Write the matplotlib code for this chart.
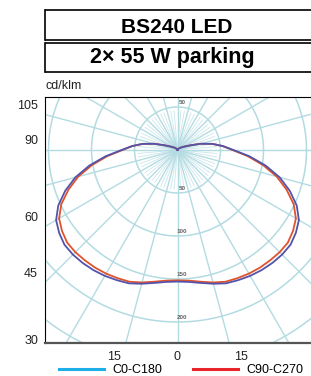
import numpy as np
import matplotlib
matplotlib.use("Agg")
import matplotlib.pyplot as plt
from matplotlib.lines import Line2D

# polar photometric diagram, cd/klm against gamma angle (0 = straight down)
GAMMA = [0, 5, 10, 15, 20, 25, 30, 35, 40, 45, 50, 55, 60, 65, 70, 75, 80, 85,
         90, 95, 100, 105, 110, 115, 120, 125, 130, 140, 150, 165, 180]
C0_C180 = [153, 154, 157, 161, 165, 167, 169, 170.5, 171.5, 172, 171.5, 168, 163,
           153, 139, 123, 104, 84, 65, 53, 41, 28, 16, 10, 7, 5, 4, 2, 1.5, 0.5, 0]
C90_C270 = [151.5, 152.5, 155.5, 159.5, 163, 164.5, 166, 167, 167.5, 168, 167.5, 164,
            159, 149, 135, 119.5, 101, 82, 64, 52.5, 41, 28, 16, 10, 7, 5, 4, 2, 1.5, 0.5, 0]

CIRCLES = [50, 100, 150, 200, 250, 300, 350]
CIRCLE_LABELS_DOWN = [50, 100, 150, 200]
CIRCLE_LABELS_UP = [50]
LEFT_ANGLES = [105, 90, 60, 45, 30]
BOTTOM_ANGLES = [-15, 0, 15]

TITLE = "BS240 LED"
SUBTITLE = "2\u00d7 55 W parking"
UNIT = "cd/klm"
SERIES = ["C0-C180", "C90-C270"]

W, H = 311, 376
PX = 0.86   # pixels per cd/klm
GRID = "#b3dbe2"


def polar_xy(gamma, r):
    g = np.radians(np.concatenate([-np.array(gamma[::-1]), np.array(gamma[1:])]))
    rr = np.concatenate([np.array(r[::-1]), np.array(r[1:])])
    return rr * np.sin(g), -rr * np.cos(g)


def main():
    plt.rcParams['font.family'] = ['Liberation Sans', 'DejaVu Sans']
    fig = plt.figure(figsize=(W / 100, H / 100), dpi=100)

    # title boxes, open on the right (they run off the page)
    for y0, y1 in [(10, 40), (43, 72)]:
        for ya in (y0, y1):
            fig.add_artist(Line2D([44.5 / W, 1.0], [1 - ya / H] * 2,
                                  transform=fig.transFigure, color="black",
                                  lw=1.2, solid_capstyle="butt"))
        fig.add_artist(Line2D([44.5 / W] * 2, [1 - y0 / H, 1 - y1 / H],
                              transform=fig.transFigure, color="black", lw=1.2))
    fig.text(176.5 / W, 1 - 33 / H, TITLE, ha="center", va="baseline",
             fontsize=15, fontweight="bold")
    fig.text(172 / W, 1 - 62.5 / H, SUBTITLE, ha="center", va="baseline",
             fontsize=15.5, fontweight="bold")
    fig.text(45 / W, 1 - 86 / H, UNIT, ha="left", va="center", fontsize=9, color="#222")

    cx, cy = 177.5, 150.0
    left, top, bottom, right = 45, 97, 343, 312
    ax = fig.add_axes([left / W, 1 - bottom / H, (right - left) / W, (bottom - top) / H])
    ax.set_xlim((left - cx) / PX, (right - cx) / PX)
    ax.set_ylim((cy - bottom) / PX, (cy - top) / PX)

    # grid
    t = np.linspace(0, 2 * np.pi, 400)
    for r in CIRCLES:
        ax.plot(r * np.cos(t), r * np.sin(t), color=GRID, lw=1.1, zorder=1)
    for a in range(0, 360, 5):
        ar = np.radians(a)
        if a % 15 == 0:
            ax.plot([0, 400 * np.sin(ar)], [0, -400 * np.cos(ar)], color=GRID, lw=1.0, zorder=1)
        else:
            ax.plot([0, 46 * np.sin(ar)], [0, -46 * np.cos(ar)], color=GRID, lw=0.6,
                    alpha=0.7, zorder=1)
    off = 4.5 / PX
    for r in CIRCLE_LABELS_DOWN:
        ax.text(4.5 / PX, -r + off, str(r), fontsize=4.5, fontweight="bold",
                color="#666", ha="center", va="center", zorder=2)
    for r in CIRCLE_LABELS_UP:
        ax.text(4.5 / PX, r + off, str(r), fontsize=4.5, fontweight="bold",
                color="#666", ha="center", va="center", zorder=2)

    # curves
    x, y = polar_xy(GAMMA, C90_C270)
    ax.plot(x, y, color="#e0522c", lw=1.3, zorder=3)
    x, y = polar_xy(GAMMA, C0_C180)
    ax.plot(x, y, color="#5353aa", lw=1.3, zorder=4)

    # angle labels where the rays leave the frame
    xl, yb = ax.get_xlim()[0], ax.get_ylim()[0]
    ypos = []
    for a in LEFT_ANGLES:
        yc = xl / np.tan(np.radians(a)) + 10 / PX if a != 90 else 10 / PX
        ypos.append(max(yc, yb + 3 / PX))
    ax.set_yticks(ypos, [str(a) for a in LEFT_ANGLES])
    xpos = [yb * -np.tan(np.radians(a)) + np.sign(a) * 12 / PX for a in BOTTOM_ANGLES]
    ax.set_xticks(xpos, [str(abs(a)) for a in BOTTOM_ANGLES])
    ax.tick_params(length=0, labelsize=9, labelcolor="#222")
    ax.tick_params(axis="y", pad=5)
    ax.tick_params(axis="x", pad=6)

    for s in ["top", "left"]:
        ax.spines[s].set_color("black")
        ax.spines[s].set_linewidth(0.8)
    ax.spines["bottom"].set_color("#555")
    ax.spines["bottom"].set_linewidth(1.6)
    ax.spines["right"].set_visible(False)

    handles = [Line2D([], [], color="#1eaee8", lw=2.2), Line2D([], [], color="#e8232a", lw=2.2)]
    fig.legend(handles, SERIES, loc="center left", bbox_to_anchor=(59 / W, 1 - 370 / H),
               ncol=2, frameon=False, fontsize=9, handlelength=3.6, handletextpad=0.7,
               columnspacing=2.4, borderaxespad=0, borderpad=0)

    fig.savefig("out.png", dpi=100)


if __name__ == '__main__':
    main()
